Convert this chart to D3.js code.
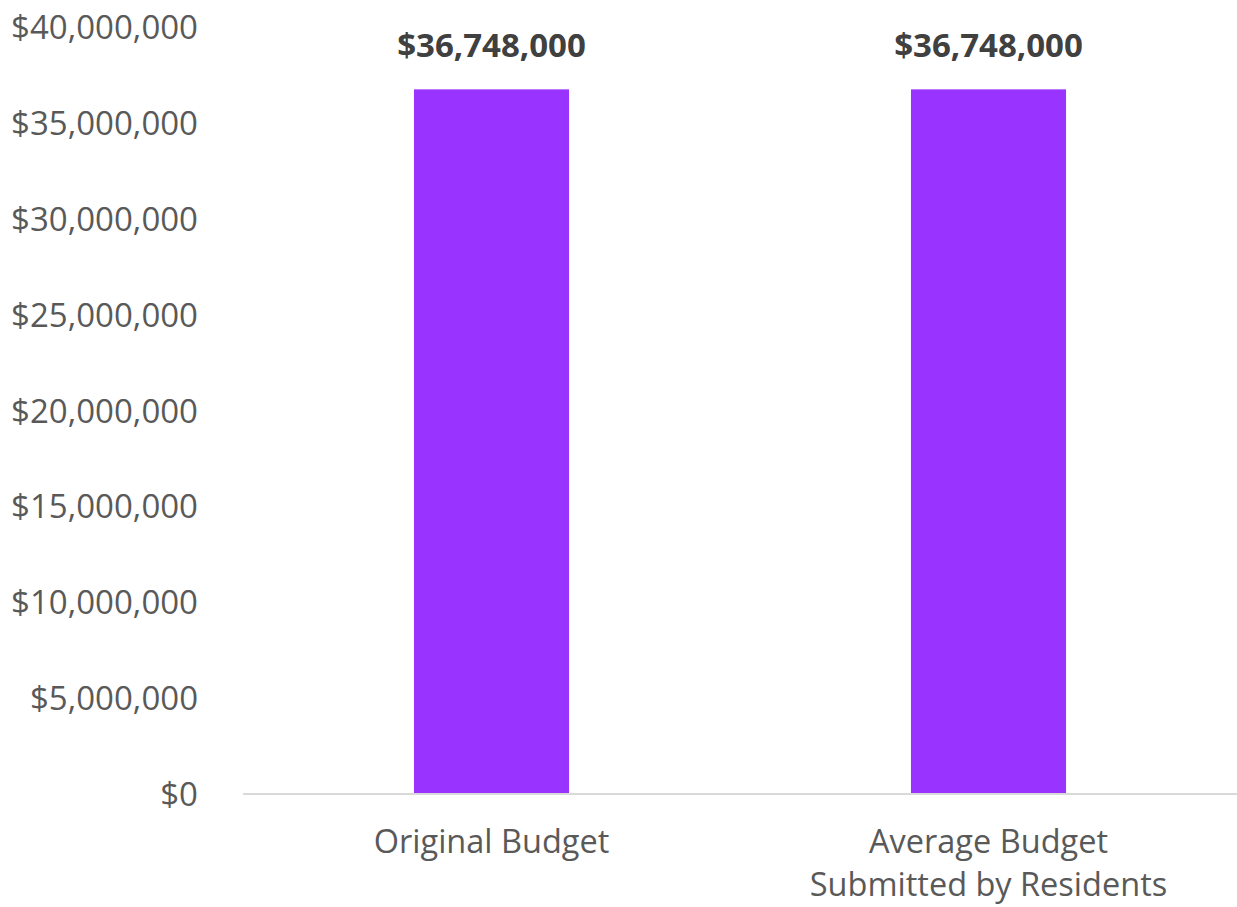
<!DOCTYPE html>
<html><head><meta charset="utf-8">
<script src="https://cdn.jsdelivr.net/npm/d3@7"></script>
<style>body{margin:0;background:#fff}svg{display:block}</style>
</head><body>
<svg id="c" width="1237" height="907"></svg>
<script>
const categories = [["Original Budget"], ["Average Budget", "Submitted by Residents"]];
const values = [36748000, 36748000];
const tickValues = [0, 5000000, 10000000, 15000000, 20000000, 25000000, 30000000, 35000000, 40000000];

const svg = d3.select("#c");
const margin = {left: 243, right: 0, top: 27, bottom: 113};
const W = 1237, H = 907;
const x = d3.scaleBand().domain(d3.range(categories.length)).range([margin.left, W - margin.right]).paddingInner(0.688).paddingOuter(0.344);
const y = d3.scaleLinear().domain([0, 40000000]).range([H - margin.bottom, margin.top]);
const fmt = v => "$" + d3.format(",")(v);
const font = "'Open Sans', sans-serif";

// y axis labels
const ya = svg.append("g").attr("transform", `translate(198,0)`)
  .call(d3.axisLeft(y).tickValues(tickValues).tickFormat(fmt).tickSize(0).tickPadding(0));
ya.select(".domain").remove();
ya.selectAll("text").attr("font-family", font).attr("font-size", 33).attr("fill", "#595959").attr("dy", "0.35em");

// bars
svg.selectAll("rect.bar").data(values).join("rect").attr("class", "bar")
  .attr("x", (d, i) => x(i)).attr("width", x.bandwidth())
  .attr("y", d => y(d)).attr("height", d => y(0) - y(d)).attr("fill", "#9933FF");

// baseline
svg.append("line").attr("x1", margin.left).attr("x2", W).attr("y1", y(0)).attr("y2", y(0))
  .attr("stroke", "#d9d9d9").attr("stroke-width", 2);

// data labels
svg.selectAll("text.lbl").data(values).join("text").attr("class", "lbl")
  .attr("x", (d, i) => x(i) + x.bandwidth() / 2).attr("y", d => y(d) - 44)
  .attr("text-anchor", "middle").attr("dy", "0.35em")
  .attr("font-family", font).attr("font-weight", "bold").attr("font-size", 33).attr("fill", "#404040")
  .text(fmt);

// category labels
const cat = svg.selectAll("text.cat").data(categories).join("text").attr("class", "cat")
  .attr("text-anchor", "middle").attr("font-family", font).attr("font-size", 32.5).attr("fill", "#595959");
cat.each(function(lines, i) {
  d3.select(this).selectAll("tspan").data(lines).join("tspan")
    .attr("x", x(i) + x.bandwidth() / 2).attr("y", (d, j) => 842 + j * 43).attr("dy", "0.35em").text(d => d);
});
</script>
</body></html>
